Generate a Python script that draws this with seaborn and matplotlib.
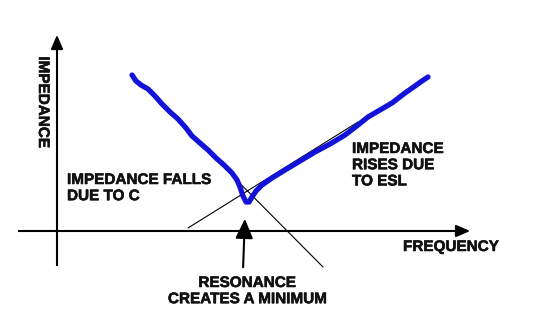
import matplotlib
matplotlib.use("Agg")
import matplotlib.pyplot as plt
import matplotlib.patheffects as pe
import seaborn as sns
import pandas as pd

# Hand-drawn impedance curve (frequency position, impedance position in drawing units)
curve_freq = [132, 136, 141, 148, 155, 162, 170, 178, 186, 192, 200, 208, 216, 224, 232, 237, 240,
              243, 246, 249, 252, 256, 262, 272, 285, 300, 315, 330, 345, 358, 368, 380, 392,
              405, 415, 422, 428]
curve_imp = [75, 81, 85, 89, 96, 104, 112, 119, 128, 136, 143, 150, 158, 165, 173, 180, 187,
             196, 202, 202, 197, 191, 185, 178, 170, 161, 152, 144, 135, 125, 117, 110, 103,
             93, 86, 81, 77]

# Asymptotes
cap_freq = [179, 323]
cap_imp = [122, 267]
esl_freq = [188, 358]
esl_imp = [228, 122]

# Labels
y_label = "IMPEDANCE"
x_label = "FREQUENCY"
label_c = "IMPEDANCE FALLS\nDUE TO C"
label_esl = "IMPEDANCE\nRISES DUE\nTO ESL"
label_res = "RESONANCE\nCREATES A MINIMUM"

sns.set_theme(style="white")
plt.rcParams["font.family"] = ["Liberation Sans", "DejaVu Sans"]

fig = plt.figure(figsize=(5.4, 3.14), dpi=100)
ax = fig.add_axes([0, 0, 1, 1])
ax.axis("off")

# Axes of the diagram
ax.plot([57, 57], [266, 41], color="black", lw=1.5, solid_capstyle="butt")
ax.annotate("", xy=(57, 32), xytext=(57, 44),
            arrowprops=dict(arrowstyle="-|>,head_length=0.7,head_width=0.3", color="black", lw=1.5))
ax.plot([18, 463], [231, 231], color="black", lw=1.5, solid_capstyle="butt")
ax.annotate("", xy=(473, 231), xytext=(460, 231),
            arrowprops=dict(arrowstyle="-|>,head_length=0.7,head_width=0.3", color="black", lw=1.5))

# Asymptote lines
sns.lineplot(x=cap_freq, y=cap_imp, ax=ax, color="black", lw=0.8, sort=False)
sns.lineplot(x=esl_freq, y=esl_imp, ax=ax, color="black", lw=0.8, sort=False)

# Impedance curve
df = pd.DataFrame({"f": curve_freq, "z": curve_imp})
sns.lineplot(data=df, x="f", y="z", ax=ax, color="#1212d8", lw=3.8, sort=False,
             solid_capstyle="round", solid_joinstyle="round")

# Resonance arrow
ax.annotate("", xy=(245, 216), xytext=(243, 270),
            arrowprops=dict(arrowstyle="-|>,head_length=1.0,head_width=0.45", color="black", lw=1.5))

ax.set_xlim(0, 540)
ax.set_ylim(314, 0)
ax.set_xlabel("")
ax.set_ylabel("")

fs = 11
tk = dict(fontsize=fs, fontweight="bold", color="#111111",
          path_effects=[pe.withStroke(linewidth=0.4, foreground="#111111")])
ax.text(43, 102, y_label, rotation=-90, ha="center", va="center", **tk)
ax.text(403, 240, x_label, ha="left", va="top", **tk)
ax.text(67, 173, label_c, ha="left", va="top", linespacing=1.2, **tk)
ax.text(352, 142, label_esl, ha="left", va="top", linespacing=1.2, **tk)
ax.text(247, 276, label_res, ha="center", va="top", linespacing=1.2,
        multialignment="center", **tk)

fig.savefig("out.png", dpi=100)
